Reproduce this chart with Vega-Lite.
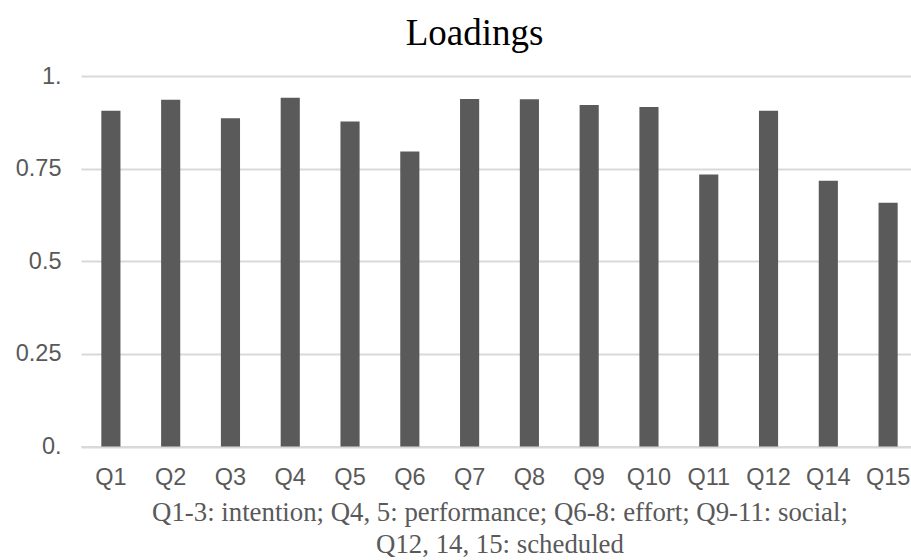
{
  "$schema": "https://vega.github.io/schema/vega-lite/v6.json",
  "autosize": "none",
  "padding": {"left": 81, "top": 76, "right": 0, "bottom": 114},
  "width": 837,
  "height": 370.5,
  "background": "white",
  "title": {
    "text": "Loadings",
    "font": "Liberation Serif",
    "fontSize": 37,
    "fontWeight": "normal",
    "color": "#000000",
    "anchor": "middle",
    "baseline": "alphabetic",
    "offset": -18,
    "dx": -25
  },
  "data": {
    "values": [
      {"item": "Q1", "loading": 0.906},
      {"item": "Q2", "loading": 0.936},
      {"item": "Q3", "loading": 0.886},
      {"item": "Q4", "loading": 0.941},
      {"item": "Q5", "loading": 0.877},
      {"item": "Q6", "loading": 0.796},
      {"item": "Q7", "loading": 0.938},
      {"item": "Q8", "loading": 0.937},
      {"item": "Q9", "loading": 0.922},
      {"item": "Q10", "loading": 0.916},
      {"item": "Q11", "loading": 0.734},
      {"item": "Q12", "loading": 0.906},
      {"item": "Q14", "loading": 0.717},
      {"item": "Q15", "loading": 0.658}
    ]
  },
  "mark": {"type": "bar", "color": "#5a5a5a"},
  "encoding": {
    "x": {
      "field": "item",
      "type": "nominal",
      "sort": null,
      "scale": {"paddingInner": 0.68, "paddingOuter": 0.34},
      "axis": {
        "title": ["Q1-3: intention; Q4, 5: performance; Q6-8: effort; Q9-11: social;", "Q12, 14, 15: scheduled"],
        "titleFont": "Liberation Serif",
        "titleFontSize": 26.8,
        "titleFontWeight": "normal",
        "titleColor": "#595959",
        "titleLineHeight": 32,
        "titlePadding": 10,
        "labelAngle": 0,
        "labelFont": "Liberation Sans",
        "labelFontSize": 23.5,
        "labelColor": "#595959",
        "labelPadding": 19,
        "ticks": false,
        "tickSize": 0,
        "domain": true,
        "domainColor": "#d9d9d9",
        "domainWidth": 2
      }
    },
    "y": {
      "field": "loading",
      "type": "quantitative",
      "scale": {"domain": [0, 1], "nice": false},
      "axis": {
        "title": null,
        "values": [0, 0.25, 0.5, 0.75, 1],
        "labelExpr": "datum.value == 0 ? '0.' : datum.value == 1 ? '1.' : format(datum.value, '.2~f')",
        "labelFont": "Liberation Sans",
        "labelFontSize": 23.5,
        "labelColor": "#595959",
        "labelPadding": 20,
        "ticks": false,
        "tickSize": 0,
        "domain": false,
        "grid": true,
        "gridColor": "#d9d9d9",
        "gridWidth": 2
      }
    }
  },
  "config": {
    "view": {"stroke": null}
  }
}
